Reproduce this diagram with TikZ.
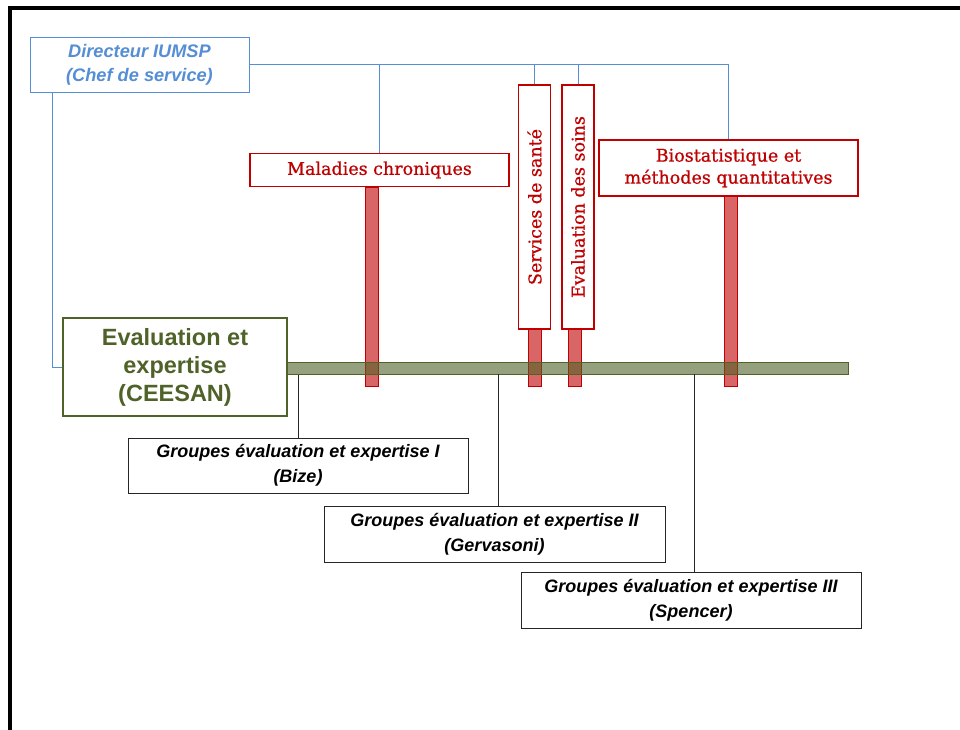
\documentclass[tikz,border=0pt]{standalone}
\usepackage{fontspec}
\setmainfont{Liberation Sans}
\newfontfamily\rougefont[FakeBold=0.8]{DejaVu Serif}
\usepackage{tikz}
\definecolor{iumspblue}{HTML}{558ED5}
\definecolor{rouge}{HTML}{C00000}
\definecolor{olive}{HTML}{4F6228}
\tikzstyle{bluebox}=[draw=iumspblue,text=iumspblue,line width=0.8pt,
                     font=\fontsize{18.2}{24}\selectfont\bfseries\itshape,
                     align=center,inner sep=0pt]
\tikzstyle{redbox}=[draw=rouge,text=rouge,fill=white,line width=1.2pt,
                    font=\fontsize{17.5}{22}\selectfont\rougefont,
                    align=center,inner sep=0pt]
\tikzstyle{greenbox}=[draw=olive,text=olive,line width=1.2pt,
                      font=\fontsize{23.5}{28}\selectfont\bfseries,
                      align=center,inner sep=0pt]
\tikzstyle{groupbox}=[draw=black!85,line width=1pt,
                      font=\fontsize{18}{25}\selectfont\bfseries\itshape,
                      align=center,inner sep=0pt,
                      minimum width=340pt,minimum height=55pt]
\tikzstyle{redbar}=[draw=rouge,fill=rouge,fill opacity=0.6,line width=0.8pt]
\tikzstyle{bluelink}=[draw=iumspblue,line width=0.8pt]
\tikzstyle{blacklink}=[draw=black!85,line width=0.8pt]

\begin{document}
\begin{tikzpicture}[x=1pt,y=-1pt]
    \useasboundingbox (0,0) rectangle (960,729);
    % frame
    \draw[line width=4pt] (964,8) -- (9.5,8) -- (9.5,733);
    % top: director and units
    \node (dir) at (139.5,64.5) [bluebox,minimum width=219pt,minimum height=55pt]
          {Directeur IUMSP\\(Chef de service)};
    \node (mal) at (379.5,170) [redbox,minimum width=259pt,minimum height=33pt]
          {Maladies chroniques};
    \node (sante) at (534.5,207) [redbox,rotate=90,minimum width=244pt,minimum height=32pt]
          {Services de santé};
    \node (soins) at (578,207) [redbox,rotate=90,minimum width=244pt,minimum height=32pt]
          {Evaluation des soins};
    \node (bio) at (728.5,168) [redbox,minimum width=259pt,minimum height=56pt]
          {Biostatistique et\\méthodes quantitatives};
    \draw[bluelink] (dir.east) -- (bio.north |- dir.east) -- (bio.north);
    \draw[bluelink] (mal.north) -- (mal.north |- dir.east);
    \draw[bluelink] (sante.east) -- (sante.east |- dir.east);
    \draw[bluelink] (soins.east) -- (soins.east |- dir.east);
    % CEESAN and its axis
    \node (cee) at (175,367) [greenbox,minimum width=224pt,minimum height=98pt]
          {Evaluation et\\expertise\\(CEESAN)};
    \draw[bluelink] (dir.south west) ++(23,0) |- (cee.west);
    \draw[redbar] (mal.south) ++(-14.5,0) rectangle ++(13,199);
    \draw[redbar] (sante.west) ++(-6.5,0) rectangle ++(13,56.5);
    \draw[redbar] (soins.west) ++(-10,0) rectangle ++(13,56.5);
    \draw[redbar] (bio.south) ++(-4.5,0) rectangle ++(13,189.5);
    \node (axe) at (567.5,368) [draw=olive,fill=olive,fill opacity=0.6,line width=1pt,
          inner sep=0pt,minimum width=561pt,minimum height=12pt] {};
    % groups
    \node (g1) at (298,465.5) [groupbox]
          {Groupes évaluation et expertise I\\(Bize)};
    \node (g2) at (494.5,534) [groupbox,minimum width=341pt,minimum height=56pt]
          {Groupes évaluation et expertise II\\(Gervasoni)};
    \node (g3) at (691,600) [groupbox,minimum height=56pt]
          {Groupes évaluation et expertise III\\(Spencer)};
    \draw[blacklink] (g1.north) -- (g1.north |- axe.south);
    \draw[blacklink] (g2.north) ++(3.5,0) -- ++(0,-132);
    \draw[blacklink] (g3.north) ++(3,0) -- ++(0,-198);
  \end{tikzpicture}
\end{document}
